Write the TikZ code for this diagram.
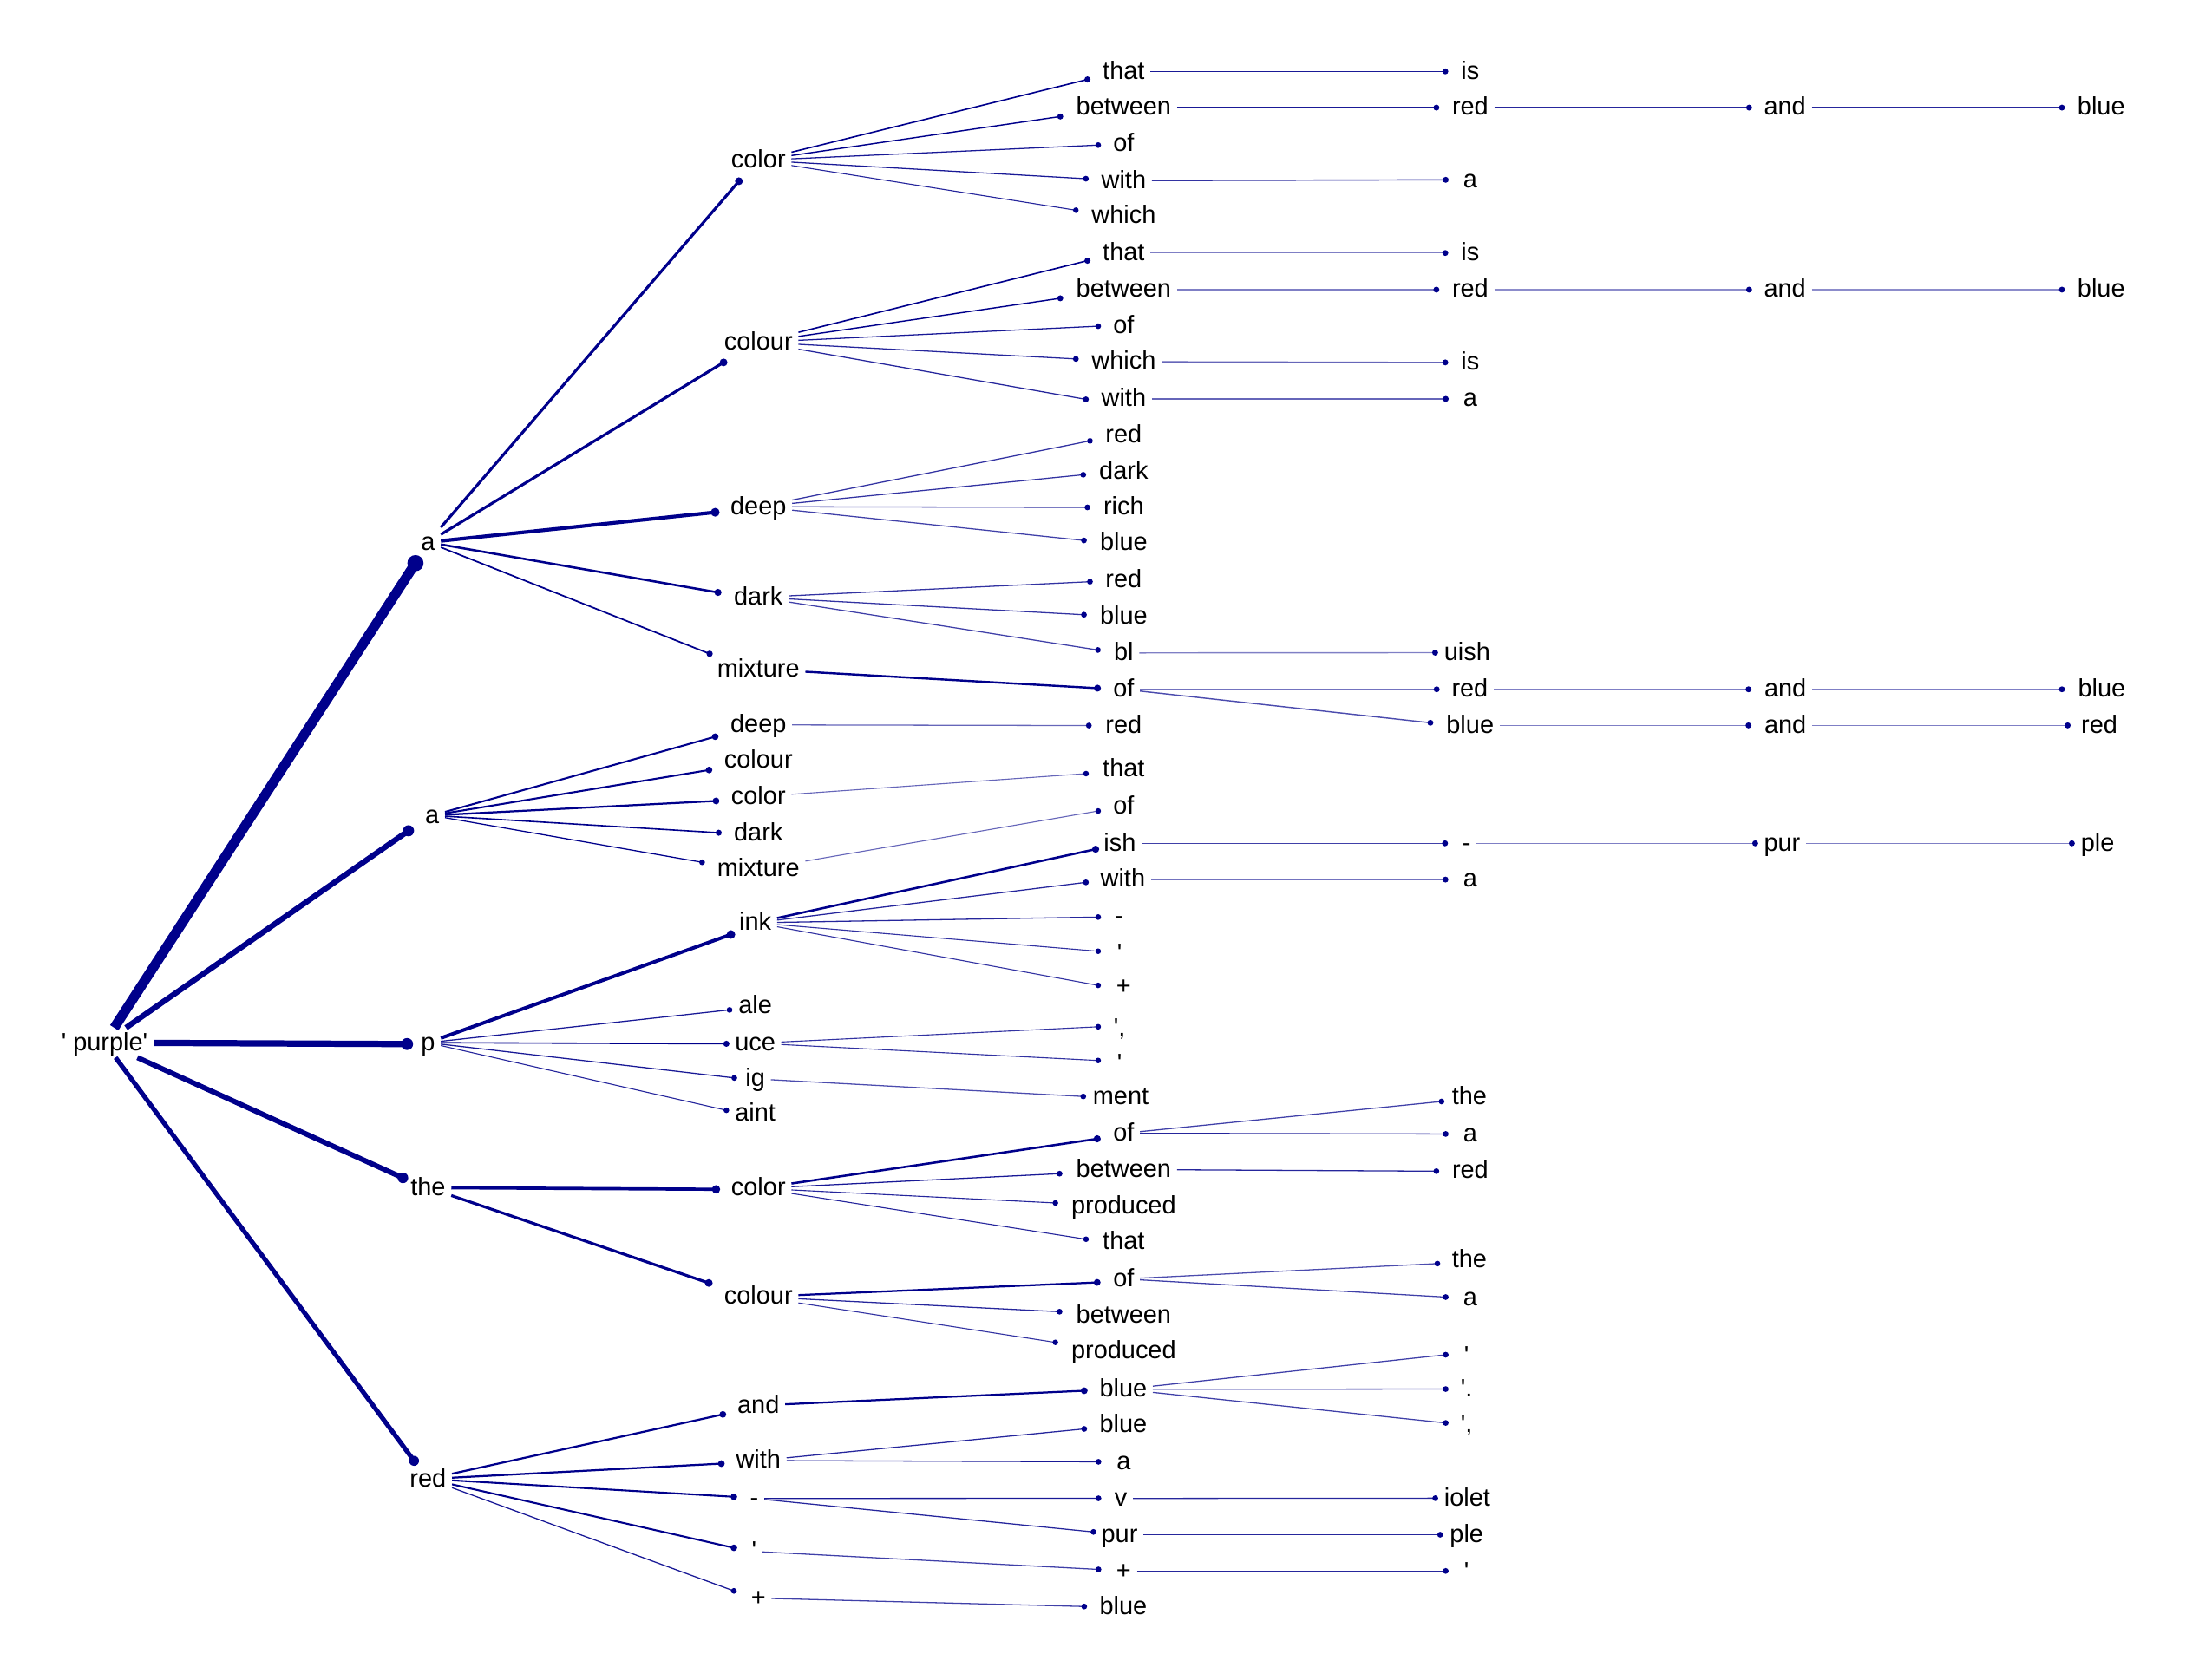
\documentclass[tikz,border=0pt]{standalone}
\usepackage{fontspec}
\newfontfamily\labfont{Liberation Sans}
\definecolor{nv}{RGB}{0,0,139}
\tikzset{
  lab/.style={font=\labfont\fontsize{18}{21}\selectfont, inner xsep=4pt, inner ysep=2pt,
    text height=14pt, text depth=3pt, anchor=center, text=black},
  edge/.style={draw=nv, line cap=butt},
  dotc/.style={fill=nv}
}
\newcommand{\mkn}[6]{\coordinate (D#1) at (#2,#3); \node[lab] (L#1) at (#4,#5) {#6};}
\newcommand{\mke}[4]{\draw[edge, line width=#3pt, draw opacity=#4] (L#1) -- (D#2);
  \fill[dotc] (D#2) circle[radius=0.6*#3pt+1.6pt];}
\begin{document}
\begin{tikzpicture}[x=1pt,y=-1pt]
\useasboundingbox (0,0) rectangle (1568,1205);
\node[lab] (LR) at (75,748) {' purple'};
% level 1
\mkn{A1}{298}{404}{307}{389}{a}
\mkn{A2}{293}{596}{310}{585}{a}
\mkn{P}{292}{749}{307}{748}{p}
\mkn{T}{289}{845}{307}{852}{the}
\mkn{RD}{297}{1048}{307}{1061}{red}
% level 2
\mkn{A1c}{530}{130}{544}{115}{color}
\mkn{A1o}{519}{260}{544}{245.5}{colour}
\mkn{A1d}{513}{367.5}{544}{363.5}{deep}
\mkn{A1k}{515}{425}{544}{428.5}{dark}
\mkn{A1m}{509}{469}{544}{480}{mixture}
\mkn{A2d}{513}{528.5}{544}{520}{deep}
\mkn{A2o}{508.6}{552.4}{544}{545.5}{colour}
\mkn{A2c}{513.6}{574.6}{544}{571.5}{color}
\mkn{A2k}{515.5}{597.4}{544}{597.5}{dark}
\mkn{A2m}{503.6}{618.6}{544}{623.5}{mixture}
\mkn{Pi}{524.3}{670.4}{541.7}{662}{ink}
\mkn{Pa}{523.3}{724.5}{541.7}{721.8}{ale}
\mkn{Pu}{521}{748.8}{541.7}{748.4}{uce}
\mkn{Pg}{526.7}{773.3}{541.7}{774}{ig}
\mkn{Pn}{521}{796.5}{541.7}{799}{aint}
\mkn{Tc}{513.6}{853.2}{544}{852.5}{color}
\mkn{To}{508.4}{920.4}{544}{930.3}{colour}
\mkn{Ra}{518.5}{1014.7}{544}{1008.3}{and}
\mkn{Rw}{517.4}{1050}{544}{1047.8}{with}
\mkn{Rh}{526.4}{1073.8}{541}{1075}{-}
\mkn{Rq}{526.4}{1110.4}{541}{1113}{'}
\mkn{Rp}{526.4}{1141.3}{544}{1146.5}{+}
% level 3
\mkn{A1c1}{780}{57}{806}{51.2}{that}
\mkn{A1c2}{760.5}{83.6}{806}{77.2}{between}
\mkn{A1c3}{787.7}{104.1}{806}{103.3}{of}
\mkn{A1c4}{778.9}{128.2}{806}{129.6}{with}
\mkn{A1c5}{771.7}{150.8}{806}{155}{which}
\mkn{A1o1}{780}{187}{806}{181.5}{that}
\mkn{A1o2}{760.5}{214}{806}{207.8}{between}
\mkn{A1o3}{787.7}{234}{806}{233.5}{of}
\mkn{A1o4}{771.7}{257.5}{806}{259.5}{which}
\mkn{A1o5}{778.9}{286.5}{806}{286.2}{with}
\mkn{A1d1}{781.8}{316.3}{806}{312}{red}
\mkn{A1d2}{777}{340.6}{806}{338}{dark}
\mkn{A1d3}{780}{364}{806}{364}{rich}
\mkn{A1d4}{777.5}{387.7}{806}{389.5}{blue}
\mkn{A1k1}{781.8}{417.3}{806}{416}{red}
\mkn{A1k2}{777.5}{441}{806}{442}{blue}
\mkn{A1k3}{787.5}{466.3}{806}{468.4}{bl}
\mkn{A1m1}{787.2}{493.7}{806}{494.5}{of}
\mkn{A2d1}{781}{520.5}{806}{520.5}{red}
\mkn{A2c1}{779}{555}{806}{552}{that}
\mkn{A2m1}{787.7}{581.8}{806}{578.5}{of}
\mkn{Pi1}{785.9}{609.2}{803.2}{605}{ish}
\mkn{Pi2}{778.9}{633}{805.4}{631}{with}
\mkn{Pi3}{787.7}{657.9}{803}{657.5}{-}
\mkn{Pi4}{787.7}{682.4}{803}{684}{'}
\mkn{Pi5}{787.7}{706.9}{806}{708}{+}
\mkn{Pu1}{787.7}{736.6}{803}{738}{',}
\mkn{Pu2}{787.7}{760.8}{803}{763}{'}
\mkn{Pg1}{777}{786.6}{803.9}{787}{ment}
\mkn{Tc1}{787}{817}{806}{813}{of}
\mkn{Tc2}{760}{842}{806}{839}{between}
\mkn{Tc3}{757}{863}{806}{865}{produced}
\mkn{Tc4}{779}{889}{806}{891}{that}
\mkn{To1}{787}{920}{806}{917.5}{of}
\mkn{To2}{760}{941}{806}{943.5}{between}
\mkn{To3}{757}{963}{806}{969.5}{produced}
\mkn{Ra1}{777.7}{997.7}{805.7}{996.7}{blue}
\mkn{Rw1}{777.7}{1025.1}{805.7}{1022}{blue}
\mkn{Rw2}{787.9}{1048.7}{806}{1048.7}{a}
\mkn{Rh1}{787.9}{1074.9}{804}{1075}{v}
\mkn{Rh2}{784.3}{1099}{803}{1101}{pur}
\mkn{Rq1}{787.9}{1125.9}{806}{1127}{+}
\mkn{Rp1}{777.7}{1152.5}{805.7}{1152.5}{blue}
% level 4
\mkn{A1c1a}{1036.7}{51.2}{1054.6}{51.2}{is}
\mkn{A1c2a}{1030.3}{77.2}{1054.6}{77.2}{red}
\mkn{A1c4a}{1037}{129}{1054.6}{129}{a}
\mkn{A1o1a}{1036.7}{181.5}{1054.6}{181.5}{is}
\mkn{A1o2a}{1030.3}{207.8}{1054.6}{207.8}{red}
\mkn{A1o4a}{1036.7}{260}{1054.6}{260}{is}
\mkn{A1o5a}{1037}{286.2}{1054.6}{286.2}{a}
\mkn{A1k3a}{1029.4}{468.2}{1052.4}{468.2}{uish}
\mkn{A1m1a}{1030.5}{494.5}{1054.3}{494.5}{red}
\mkn{A1m1b}{1026}{518.5}{1054.5}{520.4}{blue}
\mkn{Pi1a}{1036.5}{605}{1052}{605}{-}
\mkn{Pi2a}{1036.8}{631}{1054.6}{631}{a}
\mkn{Tc1a}{1034}{790.2}{1054}{787}{the}
\mkn{Tc1b}{1037}{813.5}{1054.6}{813.5}{a}
\mkn{Tc2a}{1030.3}{840.2}{1054.6}{840}{red}
\mkn{To1a}{1031}{906.5}{1054}{904}{the}
\mkn{To1b}{1037}{930.5}{1054.6}{931}{a}
\mkn{Ra1a}{1037}{971.9}{1052}{973}{'}
\mkn{Ra1b}{1037}{996.5}{1052}{996.5}{'.}
\mkn{Ra1c}{1037}{1020.8}{1052}{1022}{',}
\mkn{Rh1a}{1029.5}{1074.8}{1052.4}{1074.8}{iolet}
\mkn{Rh2a}{1033}{1101}{1052}{1101}{ple}
\mkn{Rq1a}{1037}{1127}{1052}{1128}{'}
% level 5 and 6
\mkn{A1c2aa}{1254.6}{77.2}{1280.3}{77.2}{and}
\mkn{A1c2ab}{1479}{77.2}{1507.2}{77.2}{blue}
\mkn{A1o2aa}{1254.6}{207.8}{1280.3}{207.8}{and}
\mkn{A1o2ab}{1479}{207.8}{1507.2}{207.8}{blue}
\mkn{A1m1aa}{1254.2}{494.5}{1280.6}{494.5}{and}
\mkn{A1m1ab}{1479}{494.5}{1507.6}{494.5}{blue}
\mkn{A1m1ba}{1254.2}{520.4}{1280.6}{520.4}{and}
\mkn{A1m1bb}{1483.1}{520.4}{1505.8}{520.4}{red}
\mkn{Pi1aa}{1259}{605}{1278.3}{605}{pur}
\mkn{Pi1ab}{1486.1}{605}{1504.6}{605}{ple}
% edges
\mke{R}{A1}{7}{1}
\mke{R}{A2}{4}{1}
\mke{R}{P}{4.5}{1}
\mke{R}{T}{3.7}{1}
\mke{R}{RD}{3.3}{1}
\mke{A1}{A1c}{2}{1}
\mke{A1}{A1o}{2}{1}
\mke{A1}{A1d}{2.6}{1}
\mke{A1}{A1k}{1.6}{1}
\mke{A1}{A1m}{1.1}{1}
\mke{A2}{A2d}{1.3}{1}
\mke{A2}{A2o}{1.3}{1}
\mke{A2}{A2c}{1.4}{1}
\mke{A2}{A2k}{1.0}{1}
\mke{A2}{A2m}{0.8}{1}
\mke{P}{Pi}{2.5}{1}
\mke{P}{Pa}{0.8}{0.9}
\mke{P}{Pu}{1.0}{1}
\mke{P}{Pg}{0.8}{0.9}
\mke{P}{Pn}{0.7}{0.85}
\mke{T}{Tc}{2.3}{1}
\mke{T}{To}{2.0}{1}
\mke{RD}{Ra}{1.4}{1}
\mke{RD}{Rw}{1.4}{1}
\mke{RD}{Rh}{1.3}{1}
\mke{RD}{Rq}{1.3}{1}
\mke{RD}{Rp}{0.8}{0.9}
\mke{A1c}{A1c1}{1.0}{1}
\mke{A1c}{A1c2}{0.9}{1}
\mke{A1c}{A1c3}{0.8}{0.9}
\mke{A1c}{A1c4}{0.8}{0.9}
\mke{A1c}{A1c5}{0.7}{0.85}
\mke{A1o}{A1o1}{1.0}{1}
\mke{A1o}{A1o2}{0.9}{1}
\mke{A1o}{A1o3}{0.8}{0.9}
\mke{A1o}{A1o4}{0.8}{0.85}
\mke{A1o}{A1o5}{0.8}{0.85}
\mke{A1d}{A1d1}{0.8}{0.8}
\mke{A1d}{A1d2}{0.8}{0.8}
\mke{A1d}{A1d3}{0.8}{0.8}
\mke{A1d}{A1d4}{0.8}{0.75}
\mke{A1k}{A1k1}{0.8}{0.8}
\mke{A1k}{A1k2}{0.8}{0.8}
\mke{A1k}{A1k3}{0.8}{0.75}
\mke{A1m}{A1m1}{1.5}{1}
\mke{A2d}{A2d1}{0.8}{0.6}
\mke{A2c}{A2c1}{0.7}{0.6}
\mke{A2m}{A2m1}{0.7}{0.6}
\mke{Pi}{Pi1}{1.6}{1}
\mke{Pi}{Pi2}{0.8}{0.85}
\mke{Pi}{Pi3}{0.8}{0.85}
\mke{Pi}{Pi4}{0.7}{0.8}
\mke{Pi}{Pi5}{0.7}{0.8}
\mke{Pu}{Pu1}{0.7}{0.8}
\mke{Pu}{Pu2}{0.7}{0.8}
\mke{Pg}{Pg1}{0.8}{0.7}
\mke{Tc}{Tc1}{1.6}{1}
\mke{Tc}{Tc2}{0.8}{0.9}
\mke{Tc}{Tc3}{0.7}{0.85}
\mke{Tc}{Tc4}{0.7}{0.85}
\mke{To}{To1}{1.4}{1}
\mke{To}{To2}{0.8}{0.85}
\mke{To}{To3}{0.7}{0.8}
\mke{Ra}{Ra1}{1.4}{1}
\mke{Rw}{Rw1}{0.8}{0.85}
\mke{Rw}{Rw2}{0.8}{0.9}
\mke{Rh}{Rh1}{0.8}{0.9}
\mke{Rh}{Rh2}{0.8}{0.85}
\mke{Rq}{Rq1}{0.8}{0.75}
\mke{Rp}{Rp1}{0.8}{0.75}
\mke{A1c1}{A1c1a}{0.9}{0.9}
\mke{A1c2}{A1c2a}{0.9}{0.9}
\mke{A1c4}{A1c4a}{0.9}{0.8}
\mke{A1o1}{A1o1a}{0.9}{0.5}
\mke{A1o2}{A1o2a}{0.9}{0.5}
\mke{A1o4}{A1o4a}{0.9}{0.6}
\mke{A1o5}{A1o5a}{0.9}{0.6}
\mke{A1k3}{A1k3a}{0.9}{0.5}
\mke{A1m1}{A1m1a}{0.9}{0.55}
\mke{A1m1}{A1m1b}{0.9}{0.7}
\mke{Pi1}{Pi1a}{0.9}{0.75}
\mke{Pi2}{Pi2a}{0.9}{0.55}
\mke{Tc1}{Tc1a}{0.8}{0.75}
\mke{Tc1}{Tc1b}{0.8}{0.85}
\mke{Tc2}{Tc2a}{0.8}{0.85}
\mke{To1}{To1a}{0.8}{0.7}
\mke{To1}{To1b}{0.8}{0.75}
\mke{Ra1}{Ra1a}{0.8}{0.75}
\mke{Ra1}{Ra1b}{0.8}{0.85}
\mke{Ra1}{Ra1c}{0.8}{0.75}
\mke{Rh1}{Rh1a}{0.8}{0.85}
\mke{Rh2}{Rh2a}{0.8}{0.85}
\mke{Rq1}{Rq1a}{0.8}{0.85}
\mke{A1c2a}{A1c2aa}{0.9}{0.85}
\mke{A1c2aa}{A1c2ab}{0.9}{0.85}
\mke{A1o2a}{A1o2aa}{0.9}{0.45}
\mke{A1o2aa}{A1o2ab}{0.9}{0.45}
\mke{A1m1a}{A1m1aa}{0.9}{0.5}
\mke{A1m1aa}{A1m1ab}{0.9}{0.5}
\mke{A1m1b}{A1m1ba}{0.9}{0.5}
\mke{A1m1ba}{A1m1bb}{0.9}{0.5}
\mke{Pi1a}{Pi1aa}{0.9}{0.5}
\mke{Pi1aa}{Pi1ab}{0.9}{0.5}
\end{tikzpicture}
\end{document}
